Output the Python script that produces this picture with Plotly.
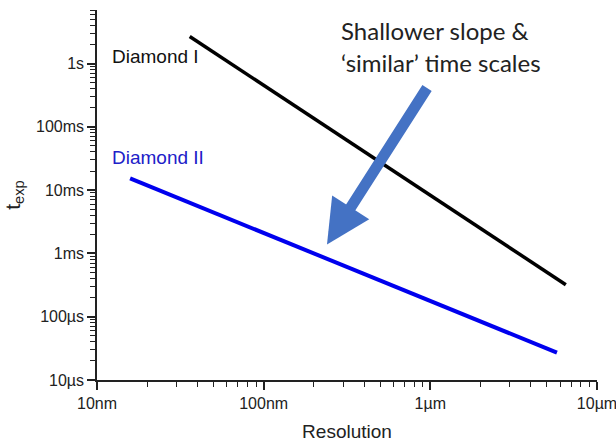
import math
import plotly.graph_objects as go

# Data (resolution in nm, exposure time in s)
res_d1 = [36, 6500]
t_d1 = [2.67, 3.2e-4]
res_d2 = [15.8, 5750]
t_d2 = [0.0153, 2.7e-5]

x_tickvals = [10, 100, 1000, 10000]
x_ticktext = ["10nm", "100nm", "1µm", "10µm"]
y_tickvals = [1e-5, 1e-4, 1e-3, 1e-2, 1e-1, 1]
y_ticktext = ["10µs", "100µs", "1ms", "10ms", "100ms", "1s"]

x_minor = [m * 10 ** e for e in range(1, 4) for m in range(2, 10)]
y_minor = [m * 10 ** e for e in range(-5, 1) for m in range(2, 10)]

fig = go.Figure()
fig.add_trace(go.Scatter(x=res_d1, y=t_d1, mode="lines",
                         line=dict(color="#000000", width=3.5), showlegend=False))
fig.add_trace(go.Scatter(x=res_d2, y=t_d2, mode="lines",
                         line=dict(color="#0000ee", width=4), showlegend=False))

tick_font = dict(family="Liberation Sans, Arial, sans-serif", size=16, color="#222")

fig.update_xaxes(type="log", range=[1, 4], showgrid=False, zeroline=False, automargin=False,
                 ticklabeloverflow="allow",
                 showline=True, linecolor="#222", linewidth=1.5,
                 ticks="outside", ticklen=8, tickwidth=1.5, tickcolor="#222",
                 tickvals=x_tickvals, ticktext=x_ticktext, tickfont=tick_font,
                 minor=dict(tickvals=x_minor, ticks="outside", ticklen=5,
                            tickwidth=1.2, tickcolor="#222"),
                 title=dict(text="Resolution", standoff=16,
                            font=dict(family="Liberation Sans, Arial, sans-serif", size=19, color="#222")))
fig.update_yaxes(type="log", range=[-5, math.log10(7)], showgrid=False, zeroline=False, automargin=False,
                 ticklabeloverflow="allow",
                 showline=True, linecolor="#222", linewidth=1.5,
                 ticks="outside", ticklen=8, tickwidth=1.5, tickcolor="#222",
                 tickvals=y_tickvals, ticktext=y_ticktext, tickfont=tick_font,
                 minor=dict(tickvals=y_minor, ticks="outside", ticklen=5,
                            tickwidth=1.2, tickcolor="#222"),
                 title=dict(text="t<sub>exp</sub>", standoff=10,
                            font=dict(family="Liberation Sans, Arial, sans-serif", size=21, color="#222")))

lab_font = "Liberation Sans, Arial, sans-serif"
fig.add_annotation(x=math.log10(12), y=0.11, text="Diamond I", showarrow=False,
                   xanchor="left", yanchor="middle",
                   font=dict(family=lab_font, size=19, color="#111"))
fig.add_annotation(x=math.log10(12), y=-1.483, text="Diamond II", showarrow=False,
                   xanchor="left", yanchor="middle",
                   font=dict(family=lab_font, size=19, color="#2020c8"))

note_font = dict(family="Lato, Open Sans, sans-serif", size=24, color="#222")
fig.add_annotation(xref="paper", yref="paper", x=(339 - 97) / 500, y=1 - (30 - 10) / 370,
                   text="Shallower slope &", showarrow=False, xanchor="left",
                   yanchor="middle", font=note_font)
fig.add_annotation(xref="paper", yref="paper", x=(339 - 97) / 500, y=1 - (62 - 10) / 370,
                   text="‘similar’ time scales", showarrow=False, xanchor="left",
                   yanchor="middle", font=note_font)

# Arrow
fig.add_annotation(x=2.38, y=-2.86, ax=101, ay=-158, text="", showarrow=True,
                   arrowhead=2, arrowsize=0.8, arrowwidth=11, arrowcolor="#4472c4",
                   standoff=0)

fig.update_layout(width=616, height=442, margin=dict(l=97, r=19, t=10, b=62),
                  paper_bgcolor="white", plot_bgcolor="white")
fig.write_html("out.html")
